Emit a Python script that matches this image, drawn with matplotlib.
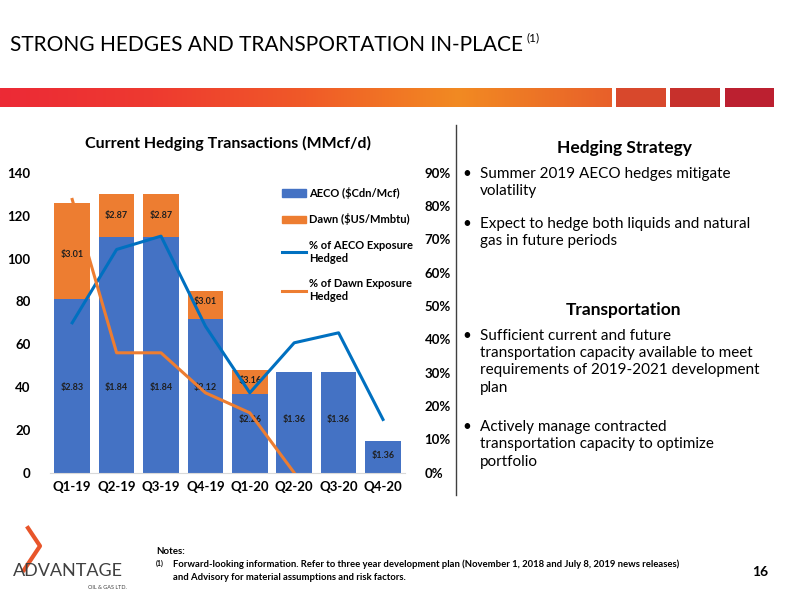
import numpy as np
import matplotlib.pyplot as plt
from matplotlib.colors import LinearSegmentedColormap
from matplotlib.lines import Line2D
from matplotlib.patches import Patch

plt.rcParams['font.family'] = ['Lato', 'DejaVu Sans']

quarters = ['Q1-19', 'Q2-19', 'Q3-19', 'Q4-19', 'Q1-20', 'Q2-20', 'Q3-20', 'Q4-20']
aeco_vol = [81, 110, 110, 72, 37, 47, 47, 15]
dawn_vol = [45, 20, 20, 13, 11, 0, 0, 0]
aeco_price = ['$2.83', '$1.84', '$1.84', '$2.12', '$2.26', '$1.36', '$1.36', '$1.36']
dawn_price = ['$3.01', '$2.87', '$2.87', '$3.01', '$3.16', '', '', '']
aeco_pct = [45, 67, 71, 44, 24, 39, 42, 16]
dawn_pct = [82, 36, 36, 24, 18, 0]

blue = '#4472C4'
orange = '#ED7D31'
line_blue = '#0070C0'

fig = plt.figure(figsize=(8, 6), dpi=100)

# title and banner
fig.text(0.012, 0.925, 'STRONG HEDGES AND TRANSPORTATION IN-PLACE', fontsize=15, va='center')
fig.text(0.658, 0.937, '(1)', fontsize=8.5, va='center')
cmap = LinearSegmentedColormap.from_list('b', ['#EC2A36', '#EE3A30', '#F05A28', '#F28A22', '#E8602A'])
bax = fig.add_axes([0, 1 - 107 / 600, 0.765, 19 / 600])
bax.imshow(np.linspace(0, 1, 256)[None, :], aspect='auto', cmap=cmap)
bax.axis('off')
for x0, c in [(0.77, '#D8482C'), (0.838, '#C7302C'), (0.906, '#BC2030')]:
    pax = fig.add_axes([x0, 1 - 107 / 600, 0.062, 19 / 600])
    pax.set_facecolor(c)
    pax.set_xticks([]); pax.set_yticks([])
    for s in pax.spines.values():
        s.set_visible(False)

# chart
ax = fig.add_axes([0.0625, 0.212, 0.444, 0.5])
x = np.arange(len(quarters))
ax.bar(x, aeco_vol, 0.8, color=blue, zorder=2)
ax.bar(x, dawn_vol, 0.8, bottom=aeco_vol, color=orange, zorder=2)
ax.set_ylim(0, 140)
ax.set_xlim(-0.5, 7.5)
ax.set_yticks(range(0, 141, 20))
ax.set_xticks(x, quarters)
ax.tick_params(length=0, labelsize=9.5)
ax.tick_params(axis='x', pad=6)
ax.tick_params(axis='y', pad=14)
for t in ax.get_xticklabels() + ax.get_yticklabels():
    t.set_fontweight('bold')
for s in ['top', 'right', 'left']:
    ax.spines[s].set_visible(False)
ax.spines['bottom'].set_color('#D9D9D9')
ax.set_title('Current Hedging Transactions (MMcf/d)', fontsize=11.5, fontweight='bold', pad=18)

aeco_lab_y = [40, 40, 40, 40, 25, 25, 25, 8]
dawn_lab_y = [102, 120, 120, 80, 43]
for i, (p, yy) in enumerate(zip(aeco_price, aeco_lab_y)):
    ax.text(i, yy, p, ha='center', va='center', fontsize=6.5, fontweight='bold', color='#1F1F1F', zorder=5)
for i, yy in enumerate(dawn_lab_y):
    ax.text(i, yy, dawn_price[i], ha='center', va='center', fontsize=6.5, fontweight='bold', color='#1F1F1F', zorder=5)

ax2 = ax.twinx()
ax2.plot(x, aeco_pct, color=line_blue, lw=2.2)
ax2.plot(x[:len(dawn_pct)], dawn_pct, color=orange, lw=2.2)
ax2.set_ylim(0, 90)
ax2.set_yticks(range(0, 91, 10), [f'{v}%' for v in range(0, 91, 10)])
ax2.tick_params(length=0, labelsize=9.5, pad=14)
for t in ax2.get_yticklabels():
    t.set_fontweight('bold')
for s in ax2.spines.values():
    s.set_visible(False)

handles = [Patch(color=blue), Patch(color=orange),
           Line2D([], [], color=line_blue, lw=2.2), Line2D([], [], color=orange, lw=2.2)]
labels = ['AECO ($Cdn/Mcf)', 'Dawn ($US/Mmbtu)', '% of AECO Exposure\nHedged', '% of Dawn Exposure\nHedged']
fig.legend(handles, labels, loc='upper left', bbox_to_anchor=(0.34, 0.705), frameon=False,
           prop={'size': 8, 'weight': 'bold'}, handlelength=2.2, handletextpad=0.2,
           labelspacing=1.3)

# divider
fig.add_artist(Line2D([0.57, 0.57], [1 - 495 / 600, 1 - 125 / 600], color='#404040', lw=1))

# right text
fig.text(0.78, 0.745, 'Hedging Strategy', ha='center', fontsize=12.5, fontweight='bold')
fig.text(0.78, 0.475, 'Transportation', ha='center', fontsize=12.5, fontweight='bold')
bullets = [
    (0.722, 'Summer 2019 AECO hedges mitigate\nvolatility'),
    (0.638, 'Expect to hedge both liquids and natural\ngas in future periods'),
    (0.452, 'Sufficient current and future\ntransportation capacity available to meet\nrequirements of 2019-2021 development\nplan'),
    (0.3, 'Actively manage contracted\ntransportation capacity to optimize\nportfolio'),
]
for yy, txt in bullets:
    fig.text(0.578, yy, '•', fontsize=11, va='top')
    fig.text(0.6, yy, txt, fontsize=11, va='top', linespacing=1.3)

# footer
fig.text(0.195, 0.077, 'Notes:', fontsize=7, fontweight='bold')
fig.text(0.195, 0.057, '(1)', fontsize=5, fontweight='bold')
fig.text(0.216, 0.067, 'Forward-looking information. Refer to three year development plan (November 1, 2018 and July 8, 2019 news releases)\nand Advisory for material assumptions and risk factors.',
         fontsize=6.8, fontweight='bold', va='top', linespacing=1.5)
fig.text(0.94, 0.04, '16', fontsize=10, fontweight='bold')
fig.text(0.016, 0.04, 'ADVANTAGE', fontsize=13, color='#404040')
fig.text(0.11, 0.018, 'OIL & GAS LTD.', fontsize=4, color='#404040')
fig.add_artist(Line2D([0.03, 0.05, 0.035], [0.05, 0.09, 0.12], color='#E8552A', lw=3))

fig.savefig('out.png', dpi=100)
